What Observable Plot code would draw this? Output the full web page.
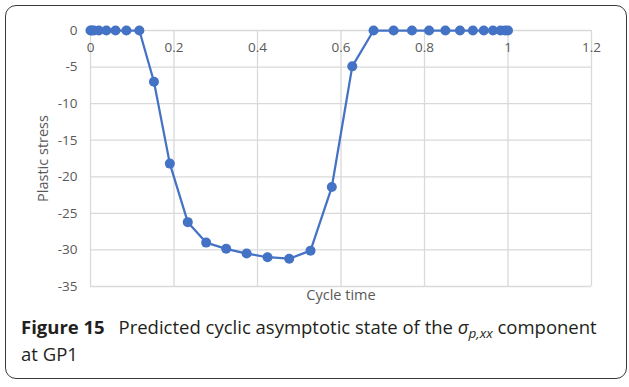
<!DOCTYPE html>
<html>
<head>
<meta charset="utf-8">
<script src="https://cdn.jsdelivr.net/npm/d3@7"></script>
<script src="https://cdn.jsdelivr.net/npm/@observablehq/plot@0.6"></script>
<style>
  html, body { margin: 0; padding: 0; background: #fff; }
  #page { position: relative; width: 629px; height: 387px; overflow: hidden; }
  #frame {
    position: absolute; left: 5px; top: 5px; width: 620px; height: 372px;
    border: 1.5px solid #3a3a3a; border-radius: 11px; box-sizing: content-box;
  }
  #chart { position: absolute; left: 0; top: 0; }
  #chart svg { font-family: "Open Sans", sans-serif; font-size: 13px; }
  #caption {
    position: absolute; left: 21px; top: 313px; width: 605px; white-space: nowrap;
    font-family: "Open Sans", sans-serif; font-size: 18.5px; line-height: 27px; color: #231f20;
  }
  #caption b { font-weight: 700; margin-right: 9px; }
  #caption sub { font-size: 13.5px; vertical-align: -4px; line-height: 0; }
</style>
</head>
<body>
<div id="page">
  <div id="chart"></div>
  <div id="frame"></div>
  <div id="caption"><b>Figure 15</b> Predicted cyclic asymptotic state of the <i>σ<sub>p,xx</sub></i> component<br>at GP1</div>
</div>
<script>
// Cycle time samples and the plastic stress at each one
const cycleTime = [0, 0.003, 0.008, 0.02, 0.038, 0.06, 0.086, 0.117, 0.152, 0.190, 0.233, 0.277, 0.325, 0.374, 0.424, 0.476, 0.527, 0.578, 0.627, 0.678, 0.726, 0.770, 0.811, 0.850, 0.885, 0.916, 0.942, 0.964, 0.982, 0.993, 1.0];
const plasticStress = [0, 0, 0, 0, 0, 0, 0, 0, -7.0, -18.2, -26.2, -29.0, -29.85, -30.5, -31.0, -31.2, -30.1, -21.4, -4.9, 0, 0, 0, 0, 0, 0, 0, 0, 0, 0, 0, 0];

// Axis ticks
const xTicks = [0, 0.2, 0.4, 0.6, 0.8, 1, 1.2];
const yTicks = [0, -5, -10, -15, -20, -25, -30, -35];

const data = cycleTime.map((t, i) => ({t, s: plasticStress[i]}));

const lineColor = "#4472c4";
const gridColor = "#d9d9d9";
const labelColor = "#595959";

const chart = Plot.plot({
  width: 629,
  height: 312,
  marginLeft: 90,
  marginRight: 38,
  marginTop: 30,
  marginBottom: 26,
  style: { background: "transparent" },
  x: { domain: [0, 1.2] },
  y: { domain: [-35, 0] },
  marks: [
    Plot.gridX(xTicks, { stroke: gridColor, strokeOpacity: 1, strokeWidth: 1.3 }),
    Plot.gridY(yTicks, { stroke: gridColor, strokeOpacity: 1, strokeWidth: 1.3 }),
    Plot.axisY(yTicks, { tickSize: 0, tickPadding: 13, fill: labelColor, label: null, fontSize: 13.5,
      tickFormat: d => String(d) }),
    Plot.axisX(xTicks, { anchor: "top", tickSize: 0, tickPadding: 0, dy: 21, fill: labelColor, label: null, fontSize: 13.5,
      tickFormat: d => String(d) }),
    // Axis titles, centred on the plot frame
    Plot.text(["Plastic stress"], { frameAnchor: "left", textAnchor: "middle", lineAnchor: "middle",
      dx: -47, rotate: -90, fill: labelColor, fontSize: 14.5 }),
    Plot.text(["Cycle time"], { frameAnchor: "bottom", textAnchor: "middle", dy: 13, fill: labelColor, fontSize: 14.5 }),
    Plot.line(data, { x: "t", y: "s", stroke: lineColor, strokeWidth: 2.25 }),
    Plot.dot(data, { x: "t", y: "s", r: 5, fill: lineColor, stroke: "none" })
  ]
});

document.getElementById("chart").appendChild(chart);
</script>
</body>
</html>
